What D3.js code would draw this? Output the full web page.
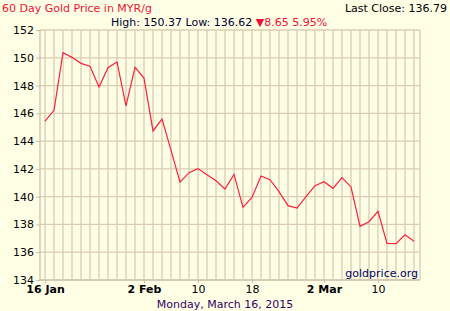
<!DOCTYPE html>
<html>
<head>
<meta charset="utf-8">
<script src="https://cdn.jsdelivr.net/npm/d3@7"></script>
<style>
  body { margin: 0; background: #ffffe6; }
  svg { display: block; font-family: "DejaVu Sans", Verdana, sans-serif; }
</style>
</head>
<body>
<svg id="chart" width="450" height="311"></svg>
<script>
"use strict";

// trading days, 16 Jan - 16 Mar 2015
var days = [
  "2015-01-16","2015-01-19","2015-01-20","2015-01-21","2015-01-22","2015-01-23",
  "2015-01-26","2015-01-27","2015-01-28","2015-01-29","2015-01-30",
  "2015-02-02","2015-02-03","2015-02-04","2015-02-05","2015-02-06",
  "2015-02-09","2015-02-10","2015-02-11","2015-02-12","2015-02-13",
  "2015-02-16","2015-02-17","2015-02-18","2015-02-19","2015-02-20",
  "2015-02-23","2015-02-24","2015-02-25","2015-02-26","2015-02-27",
  "2015-03-02","2015-03-03","2015-03-04","2015-03-05","2015-03-06",
  "2015-03-09","2015-03-10","2015-03-11","2015-03-12","2015-03-13","2015-03-16"
];
var prices = [
  145.44, 146.22, 150.37, 150.03, 149.60, 149.39,
  147.90, 149.29, 149.70, 146.53, 149.31,
  148.54, 144.73, 145.59, 143.35, 141.05,
  141.73, 142.02, 141.57, 141.15, 140.55,
  141.60, 139.23, 139.95, 141.49, 141.22,
  140.36, 139.35, 139.18, 140.00, 140.79,
  141.08, 140.60, 141.37, 140.70, 137.87,
  138.20, 138.95, 136.64, 136.62, 137.26, 136.79
];
var tickDays = ["2015-01-16","2015-02-02","2015-02-10","2015-02-18","2015-03-02","2015-03-10"];
var tickLabels = ["16 Jan","2 Feb","10","18","2 Mar","10"];
var yTicks = [134, 136, 138, 140, 142, 144, 146, 148, 150, 152];

var title = "60 Day Gold Price in MYR/g";
var dateLine = "Monday, March 16, 2015";
var credit = "goldprice.org";

var svg = d3.select("#chart");
var plotL = 40, plotR = 420, plotT = 30, plotB = 280;
var gridColor = "#d9ccb2";
var lineColor = "#ff1f3a";

var x = d3.scalePoint().domain(days).range([45, 414]);
var y = d3.scaleLinear().domain([134, 152]).range([plotB, plotT]);

// grid
svg.append("g").selectAll("line")
  .data(days)
  .enter().append("line")
  .attr("x1", function(d) { return x(d); })
  .attr("x2", function(d) { return x(d); })
  .attr("y1", plotT).attr("y2", plotB)
  .attr("stroke", gridColor).attr("stroke-width", 1.3);

svg.append("g").selectAll("line")
  .data(yTicks)
  .enter().append("line")
  .attr("x1", plotL).attr("x2", plotR)
  .attr("y1", function(d) { return y(d); })
  .attr("y2", function(d) { return y(d); })
  .attr("stroke", gridColor).attr("stroke-width", 1.3);

// frame sides
svg.append("line").attr("x1", plotL).attr("x2", plotL).attr("y1", plotT).attr("y2", plotB + 1)
  .attr("stroke", "#c8bfae").attr("stroke-width", 1.3);
svg.append("line").attr("x1", plotR).attr("x2", plotR).attr("y1", plotT).attr("y2", plotB)
  .attr("stroke", gridColor).attr("stroke-width", 1.3);

// y axis
var yAxis = svg.append("g")
  .attr("transform", "translate(" + plotL + ",0)")
  .call(d3.axisLeft(y).tickValues(yTicks).tickSize(4).tickPadding(2));
yAxis.select(".domain").remove();
yAxis.selectAll("line").attr("stroke", "#c8bfae");
yAxis.selectAll("text").attr("font-size", 11).attr("fill", "#000").attr("font-family", "DejaVu Sans");

// x axis
var xAxis = svg.append("g")
  .attr("transform", "translate(0," + plotB + ")")
  .call(d3.axisBottom(x).tickValues(tickDays).tickSize(3).tickPadding(2.5)
    .tickFormat(function(d, i) { return tickLabels[i]; }));
xAxis.select(".domain").attr("stroke", "#c8bfae").attr("d", "M" + plotL + ",0H" + plotR);
xAxis.selectAll("line").attr("stroke", "#c8bfae");
xAxis.selectAll("text")
  .attr("font-size", 11).attr("fill", "#000").attr("font-family", "DejaVu Sans")
  .attr("font-weight", function(d, i) { return /[A-Za-z]/.test(tickLabels[i]) ? "bold" : "normal"; });

// price line
svg.append("path")
  .datum(prices)
  .attr("fill", "none")
  .attr("stroke", lineColor)
  .attr("stroke-width", 1.2)
  .attr("d", d3.line()
    .x(function(d, i) { return x(days[i]); })
    .y(function(d) { return y(d); }));

// texts
var hi = d3.max(prices), lo = d3.min(prices);
var last = prices[prices.length - 1], first = prices[0];
var chg = last - first;

svg.append("text").attr("x", 2).attr("y", 12)
  .attr("font-size", 11).attr("fill", "#ee1133").text(title);

svg.append("text").attr("x", 447).attr("y", 12).attr("text-anchor", "end")
  .attr("font-size", 11).attr("fill", "#000").text("Last Close: " + last.toFixed(2));

var stat = svg.append("text").attr("x", 111).attr("y", 26).attr("font-size", 11);
stat.append("tspan").attr("fill", "#000033")
  .text("High: " + hi.toFixed(2) + " Low: " + lo.toFixed(2) + " ");
stat.append("tspan").attr("fill", "#ee1133")
  .text((chg < 0 ? "\u25BC" : "\u25B2") + Math.abs(chg).toFixed(2) + " " + (Math.abs(chg) / first * 100).toFixed(2) + "%");

svg.append("text").attr("x", 418).attr("y", 277).attr("text-anchor", "end")
  .attr("font-size", 11).attr("fill", "#000066").text(credit);

svg.append("text").attr("x", 225).attr("y", 308).attr("text-anchor", "middle")
  .attr("font-size", 11).attr("fill", "#330066").text(dateLine);
</script>
</body>
</html>
